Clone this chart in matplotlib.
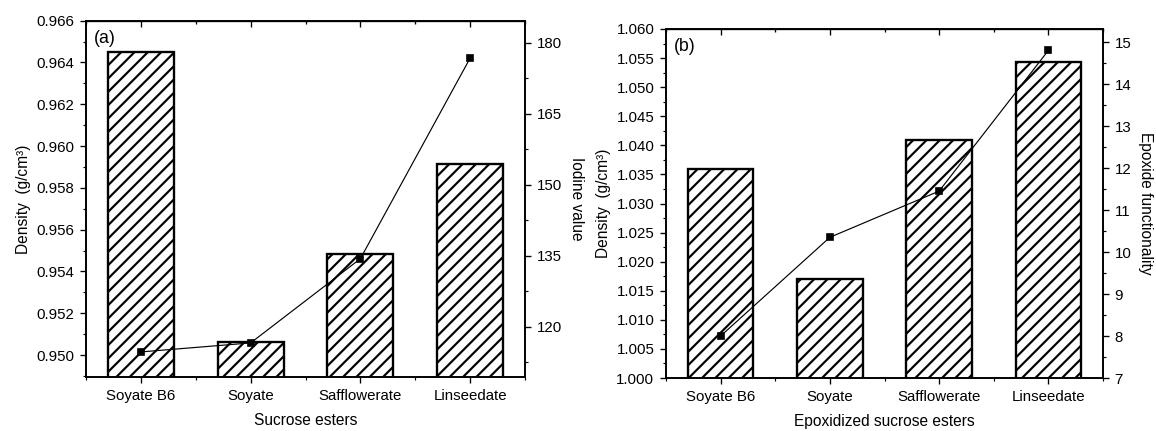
import numpy as np
import matplotlib
matplotlib.use("Agg")
import matplotlib.pyplot as plt
from matplotlib.ticker import MultipleLocator, FormatStrFormatter

plt.rcParams['font.family'] = ['Liberation Sans', 'DejaVu Sans']
plt.rcParams['hatch.linewidth'] = 1.3

esters = ["Soyate B6", "Soyate", "Safflowerate", "Linseedate"]

# (a) sucrose esters
density_a = [0.9645, 0.95062, 0.95485, 0.95914]
iodine = [114.7, 116.6, 134.4, 176.8]

# (b) epoxidized sucrose esters
density_b = [1.036, 1.017, 1.041, 1.0543]
epoxide = [8.0, 10.35, 11.45, 14.8]

DPI = 120
fig = plt.figure(figsize=(1156 / DPI, 431 / DPI), dpi=DPI)
FS = 9.0


def style_axes(ax, tw):
    ax.tick_params(axis='x', which='both', direction='out', bottom=True, top=False, labelsize=FS)
    ax.tick_params(axis='y', which='both', direction='out', left=True, right=False, labelsize=FS)
    ax.tick_params(which='major', length=3.5, width=0.8)
    ax.tick_params(which='minor', length=2, width=0.7)
    tw.tick_params(axis='y', which='both', direction='out', right=True, left=False, labelsize=FS)
    tw.tick_params(which='major', length=3.5, width=0.8)
    tw.tick_params(which='minor', length=2, width=0.7)
    sec = ax.secondary_xaxis('top')
    sec.set_xticks(range(4))
    sec.xaxis.set_minor_locator(MultipleLocator(0.5))
    sec.tick_params(which='both', direction='in', labeltop=False, length=3.5, width=0.8)
    sec.tick_params(which='minor', length=2)
    for a in (ax, tw):
        for s in a.spines.values():
            s.set_linewidth(1.0)


def panel(rect, dens, yvals, ylim_l, ylim_r, lmaj, rmaj, fmt, xlabel, rlabel, tag):
    ax = fig.add_axes(rect)
    x = np.arange(len(esters))
    ax.bar(x, dens, width=0.6, color='white', edgecolor='black', hatch='///', linewidth=1.4)
    ax.set_xlim(-0.5, 3.5)
    ax.set_ylim(*ylim_l)
    ax.set_xticks(x)
    ax.set_xticklabels(esters)
    ax.xaxis.set_minor_locator(MultipleLocator(0.5))
    ax.yaxis.set_major_locator(MultipleLocator(lmaj))
    ax.yaxis.set_minor_locator(MultipleLocator(lmaj / 2))
    ax.yaxis.set_major_formatter(FormatStrFormatter(fmt))
    ax.set_xlabel(xlabel, fontsize=FS + 0.3, labelpad=6)
    ax.set_ylabel("Density  (g/cm\u00b3)", fontsize=FS + 0.3, labelpad=3)
    ax.text(0.018, 0.975, tag, transform=ax.transAxes, ha='left', va='top', fontsize=FS + 1.6)

    tw = ax.twinx()
    tw.plot(x, yvals, color='black', lw=0.7, marker='s', markersize=3.6)
    tw.set_ylim(*ylim_r)
    tw.yaxis.set_major_locator(MultipleLocator(rmaj))
    tw.yaxis.set_minor_locator(MultipleLocator(rmaj / 2))
    tw.set_ylabel(rlabel, rotation=270, fontsize=FS + 0.3, labelpad=13)
    style_axes(ax, tw)
    return ax, tw


panel([86 / 1156, 1 - 377 / 431, 439 / 1156, 356.3 / 431], density_a, iodine,
      (0.94895, 0.966), (109.4, 184.7), 0.002, 15, '%.3f',
      "Sucrose esters", "Iodine value", "(a)")

panel([666 / 1156, 1 - 378 / 431, 437 / 1156, 349 / 431], density_b, epoxide,
      (1.0, 1.06), (7, 15.31), 0.005, 1, '%.3f',
      "Epoxidized sucrose esters", "Epoxide functionality", "(b)")

fig.savefig("out.png", dpi=DPI)
